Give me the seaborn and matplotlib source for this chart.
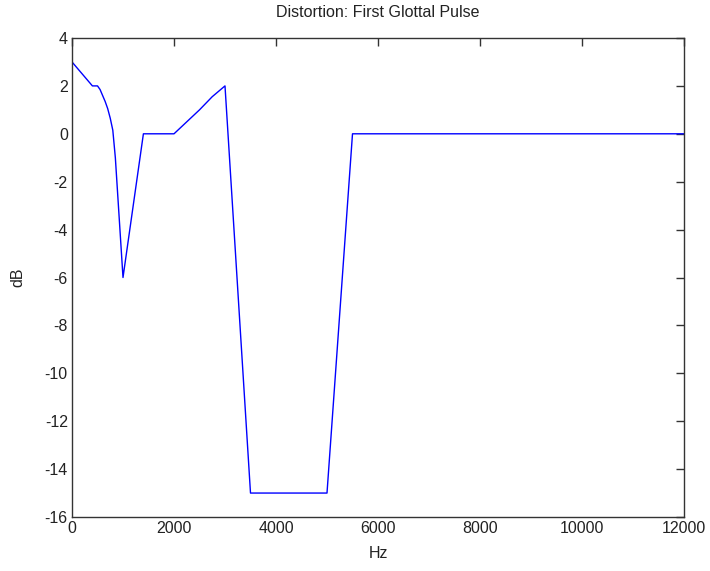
import matplotlib
matplotlib.use("Agg")
import matplotlib.pyplot as plt
import seaborn as sns
import pandas as pd

freq_hz = [0, 100, 200, 300, 400, 500, 550, 600, 650, 700, 750, 800, 850,
           1000, 1100, 1200, 1300, 1400, 2000, 2500, 2750, 3000, 3500, 5000,
           5500, 12000]
gain_db = [3.0, 2.75, 2.5, 2.25, 2.0, 2.0, 1.85, 1.6, 1.35, 1.05, 0.65, 0.15, -1.0,
           -6.0, -4.5, -3.0, -1.5, 0.0, 0.0, 1.0, 1.55, 2.0, -15.0, -15.0,
           0.0, 0.0]
x_ticks = [0, 2000, 4000, 6000, 8000, 10000, 12000]
y_ticks = [-16, -14, -12, -10, -8, -6, -4, -2, 0, 2, 4]

sns.set_style("white")
plt.rcParams['font.family'] = ['Liberation Sans', 'DejaVu Sans']

df = pd.DataFrame({"Hz": freq_hz, "dB": gain_db})

fig = plt.figure(figsize=(7.10, 5.71), dpi=100)
ax = fig.add_axes([72/710, 1-517/571, (684-72)/710, (517-38)/571])
sns.lineplot(data=df, x="Hz", y="dB", ax=ax, color="#0000ff", linewidth=1.0,
             estimator=None, sort=False)

ax.set_xlim(0, 12000)
ax.set_ylim(-16, 4)
ax.set_xticks(x_ticks)
ax.set_yticks(y_ticks)
ax.set_xticklabels([str(t) for t in x_ticks])
ax.set_yticklabels([str(t) for t in y_ticks])
ax.tick_params(direction="in", length=6, width=1, color="#333333",
               top=True, right=True, labelsize=11.5, labelcolor="#222222", pad=3)
for s in ax.spines.values():
    s.set_visible(True)
    s.set_color("#333333")
    s.set_linewidth(1.0)
ax.set_title("Distortion: First Glottal Pulse", fontsize=11.5, color="#222222", pad=15)
ax.set_xlabel("Hz", fontsize=11.5, color="#222222", labelpad=7)
ax.set_ylabel("dB", fontsize=11.5, color="#222222", labelpad=14)
ax.grid(False)

fig.savefig("out.png", dpi=100, facecolor="white")
